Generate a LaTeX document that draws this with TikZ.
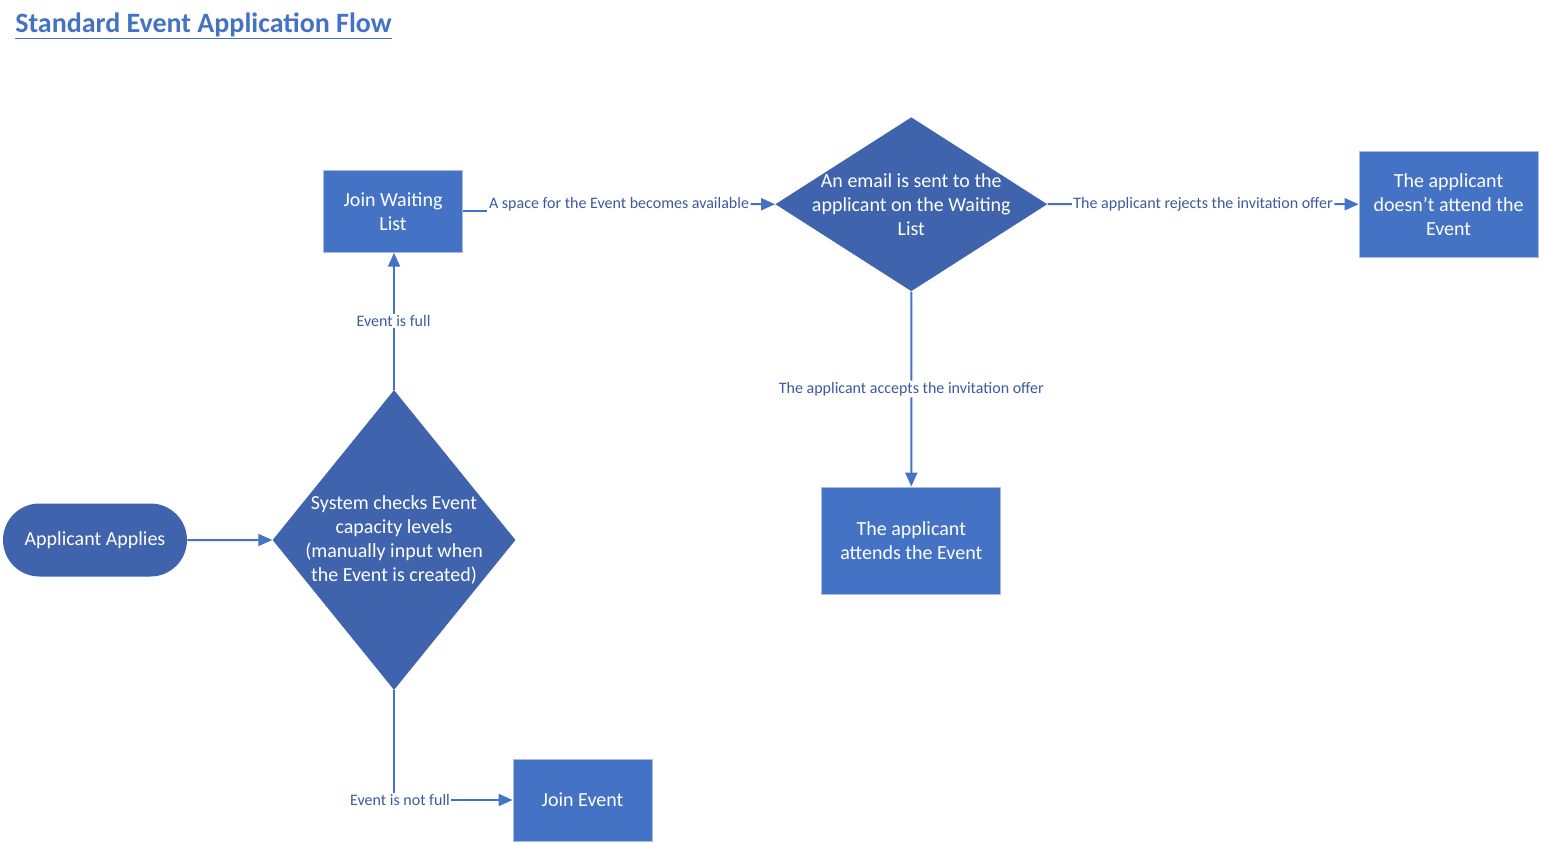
\documentclass[tikz,border=0pt]{standalone}
\usepackage{fontspec}
\setmainfont{Carlito}
\usetikzlibrary{arrows.meta,positioning,calc,shapes.geometric,shapes.misc}
\definecolor{boxblue}{HTML}{4472C4}
\definecolor{deepblue}{HTML}{3F63AC}
\definecolor{edgegray}{HTML}{A9BCE0}
\definecolor{labelblue}{HTML}{3B5B9E}
\tikzset{
  >=Triangle,
  every node/.append style={font=\fontsize{15}{18}\selectfont},
}
\tikzset{
  box/.style={draw=edgegray, line width=0.75pt, fill=boxblue, text=white, align=center, inner sep=0pt},
  flow/.style={draw=boxblue, line width=1.5pt},
  arrow/.style={flow, -{Triangle[length=10.5pt,width=9pt]}},
  cond/.style={fill=white, text=labelblue, inner sep=1pt, font=\fontsize{12}{14}\selectfont}
}
\begin{document}
\begin{tikzpicture}[
  x=0.75pt, y=-0.75pt,
  terminal/.style={rounded rectangle, fill=deepblue, text=white,
                   minimum width=138pt, minimum height=54.75pt, inner sep=0pt},
  decision/.style={diamond, fill=deepblue, inner sep=0pt},
  inside/.style={text=white, align=center}
]
\useasboundingbox (0,0) rectangle (1541,843);

% Title
\node[anchor=base west, inner sep=0pt, text=boxblue,
      font=\fontsize{21}{24}\selectfont\bfseries] (title) at (15,32)
      {\underline{Standard Event Application Flow}};

% Steps
\node[terminal] (applies) at (95,540) {Applicant Applies};
\node[decision, minimum width=182.25pt, minimum height=225pt, right=63.75pt of applies,
      label={[inside]center:System checks Event\\capacity levels\\(manually input when\\the Event is created)}] (check) {};
\node[box, minimum width=104.25pt, minimum height=61.5pt, above=102.75pt of check, xshift=-0.75pt] (waitlist) {Join Waiting\\List};
\node[decision, minimum width=204pt, minimum height=130.5pt, right=234pt of waitlist, yshift=5.25pt,
      label={[inside]center:An email is sent to the\\applicant on the Waiting\\List}] (email) {};
\node[box, minimum width=134.25pt, minimum height=79.5pt, right=233.25pt of email] (declines) {The applicant\\doesn’t attend the\\Event};
\node[box, minimum width=134.25pt, minimum height=80.25pt, below=146.25pt of email] (attends) {The applicant\\attends the Event};
\node[box, minimum width=104.25pt, minimum height=61.5pt] (joinevent) at (582.5,800) {Join Event};

% Connectors
\draw[arrow] (applies) -- (check);

\node[cond] (full) at ($(check.north)!0.5!(waitlist.south)$) {Event is full};
\draw[flow] (check.north) -- (check.north |- full.south);
\draw[arrow] (check.north |- full.north) -- (check.north |- waitlist.south);

\node[cond, xshift=4.5pt] (notfull) at (check.south |- joinevent.west) {Event is not full};
\draw[flow] (check.south) -- (check.south |- notfull.north);
\draw[arrow] (notfull.east) -- (joinevent.west);

\node[cond] (space) at ($(waitlist.east |- email.west)!0.5!(email.west)$) {A space for the Event becomes available};
\draw[flow] (waitlist.east) -- (waitlist.east -| space.west);
\draw[arrow] (space.east) -- (email.west);

\node[cond] (rejects) at ($(email.east)!0.5!(declines.west)$) {The applicant rejects the invitation offer};
\draw[flow] (email.east) -- (rejects.west);
\draw[arrow] (rejects.east) -- (declines.west);

\node[cond] (accepts) at ($(email.south)!0.5!(attends.north)$) {The applicant accepts the invitation offer};
\draw[flow] (email.south) -- (accepts.north);
\draw[arrow] (accepts.south) -- (attends.north);

\end{tikzpicture}
\end{document}
